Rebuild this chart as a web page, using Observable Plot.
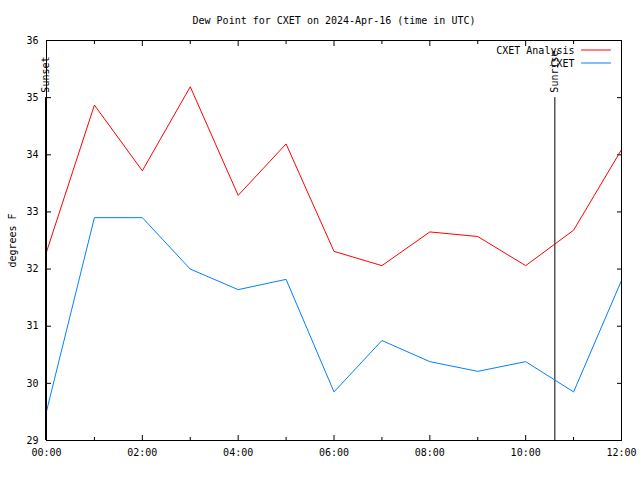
<!DOCTYPE html>
<html>
<head>
<meta charset="utf-8">
<script src="https://cdn.jsdelivr.net/npm/d3@7"></script>
<script src="https://cdn.jsdelivr.net/npm/@observablehq/plot@0.6"></script>
<style>
  body { margin: 0; background: #fff; }
  svg { display: block; }
</style>
</head>
<body>
<div id="chart"></div>
<script>
const titleText = "Dew Point for CXET on 2024-Apr-16 (time in UTC)";
const yLabel = "degrees F";
const hours = [0, 1, 2, 3, 4, 5, 6, 7, 8, 9, 10, 11, 12];
const analysis = [32.30, 34.87, 33.72, 35.19, 33.29, 34.19, 32.31, 32.06, 32.65, 32.57, 32.06, 32.68, 34.09];
const observed = [29.51, 32.90, 32.90, 32.00, 31.64, 31.82, 29.85, 30.75, 30.38, 30.21, 30.38, 29.85, 31.80];
const majorX = [0, 2, 4, 6, 8, 10, 12];
const minorX = [1, 3, 5, 7, 9, 11];
const yTicks = [29, 30, 31, 32, 33, 34, 35, 36];
const events = [{label: "Sunset", hour: 0}, {label: "Sunrise", hour: 10.63}];
const eventTop = 35;
const seriesNames = ["CXET Analysis", "CXET"];
const seriesColors = ["#ff0000", "#0080ff"];

const rows = hours.map((h, i) => ({hour: h, analysis: analysis[i], observed: observed[i]}));
const fmt = h => String(h).padStart(2, "0") + ":00";
const lineShape = { draw(context, l) { context.moveTo(0, 0); context.lineTo(0, -l); } };
const font = "DejaVu Sans Mono";

const chart = Plot.plot({
  width: 640,
  height: 480,
  marginLeft: 46,
  marginRight: 19,
  marginTop: 40,
  marginBottom: 40,
  style: {fontFamily: font, fontSize: "10px", background: "#fff", color: "#000"},
  x: {domain: [0, 12], label: null},
  y: {domain: [29, 36], label: null},
  marks: [
    Plot.axisX(majorX, {anchor: "bottom", tickSize: -5, tickPadding: 13, tickFormat: fmt, label: null, fontSize: 10}),
    Plot.axisX(majorX, {anchor: "top", tickSize: -5, tickFormat: () => "", label: null}),
    Plot.axisX(minorX, {anchor: "bottom", tickSize: -3, tickFormat: () => "", label: null}),
    Plot.axisX(minorX, {anchor: "top", tickSize: -3, tickFormat: () => "", label: null}),
    Plot.axisY(yTicks, {anchor: "left", tickSize: -5, tickPadding: 13, tickFormat: d => String(d), label: null, fontSize: 10}),
    Plot.axisY(yTicks, {anchor: "right", tickSize: -5, tickFormat: () => "", label: null}),
    Plot.ruleX(events, {x: "hour", y1: 29, y2: eventTop, stroke: "#000", strokeWidth: 1, dx: -1}),
    Plot.text(events, {x: "hour", y: eventTop, text: "label", rotate: -90, textAnchor: "start", lineAnchor: "middle", dy: -5, dx: -1, fontSize: 10, fill: "#000"}),
    Plot.line(rows, {x: "hour", y: "analysis", stroke: seriesColors[0], strokeWidth: 1}),
    Plot.line(rows, {x: "hour", y: "observed", stroke: seriesColors[1], strokeWidth: 1}),
    Plot.frame({stroke: "#000", strokeWidth: 1}),
    Plot.text([titleText], {frameAnchor: "top", dy: -20, textAnchor: "middle", lineAnchor: "middle", fontSize: 10, fill: "#000"}),
    Plot.text([yLabel], {frameAnchor: "left", dx: -34, rotate: -90, textAnchor: "middle", lineAnchor: "middle", fontSize: 10, fill: "#000"}),
    Plot.text([seriesNames[0]], {frameAnchor: "top-right", dx: -47, dy: 10, textAnchor: "end", lineAnchor: "middle", fontSize: 10, fill: "#000"}),
    Plot.text([seriesNames[1]], {frameAnchor: "top-right", dx: -47, dy: 23, textAnchor: "end", lineAnchor: "middle", fontSize: 10, fill: "#000"}),
    Plot.vector([0], {frameAnchor: "top-right", dx: -40, dy: 9.5, length: 29, rotate: 90, anchor: "start", shape: lineShape, stroke: seriesColors[0], strokeWidth: 1}),
    Plot.vector([0], {frameAnchor: "top-right", dx: -40, dy: 22.5, length: 29, rotate: 90, anchor: "start", shape: lineShape, stroke: seriesColors[1], strokeWidth: 1})
  ]
});
document.getElementById("chart").appendChild(chart);
</script>
</body>
</html>
